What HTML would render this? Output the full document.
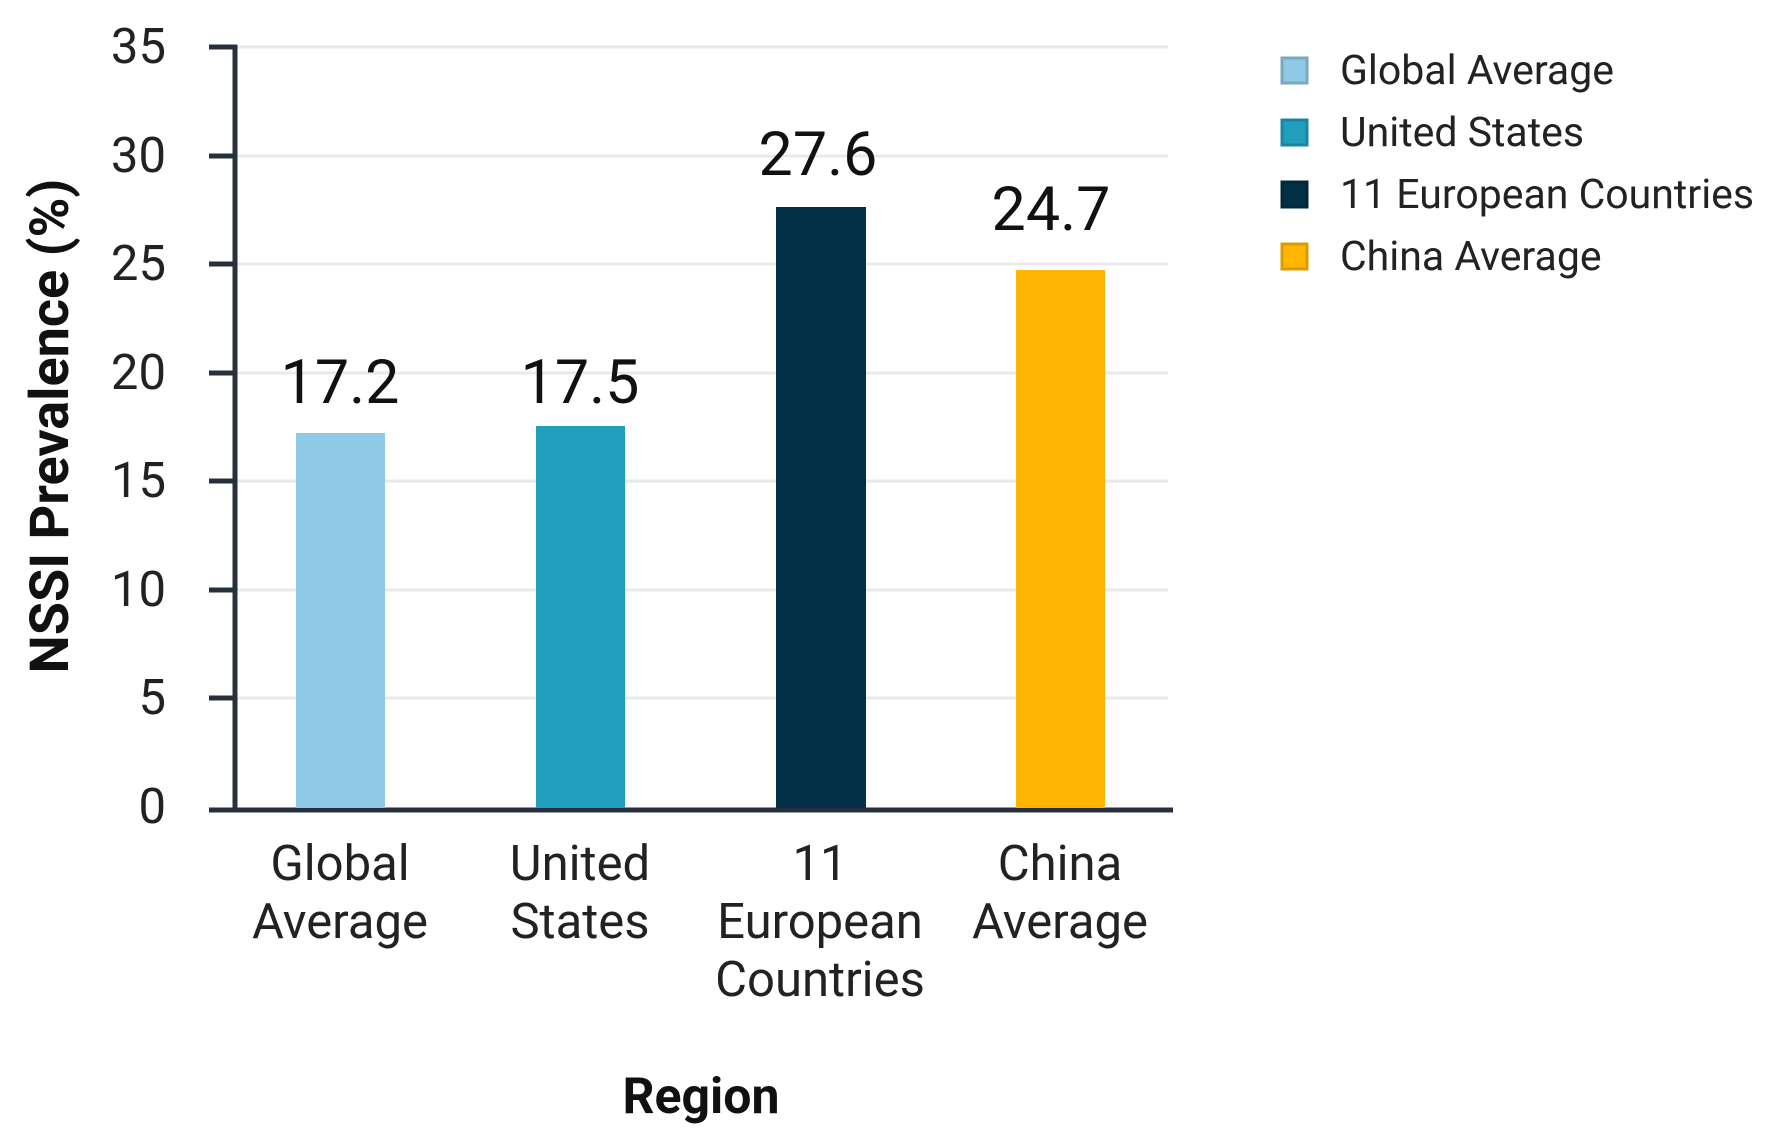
<!DOCTYPE html>
<html><head><style>body{margin:0;background:#fff}</style></head><body>
<svg width="1772" height="1138" xmlns="http://www.w3.org/2000/svg" font-family="Roboto, 'Liberation Sans', sans-serif">
<g stroke="#e9e9e9" stroke-width="3">
<line x1="237" x2="1168" y1="47" y2="47"/><line x1="237" x2="1168" y1="156" y2="156"/>
<line x1="237" x2="1168" y1="264" y2="264"/><line x1="237" x2="1168" y1="373" y2="373"/>
<line x1="237" x2="1168" y1="481" y2="481"/><line x1="237" x2="1168" y1="590" y2="590"/>
<line x1="237" x2="1168" y1="698" y2="698"/>
</g>
<g stroke="#27313d" stroke-width="5">
<line x1="209" x2="237" y1="47" y2="47"/><line x1="209" x2="237" y1="156" y2="156"/>
<line x1="209" x2="237" y1="264" y2="264"/><line x1="209" x2="237" y1="373" y2="373"/>
<line x1="209" x2="237" y1="481" y2="481"/><line x1="209" x2="237" y1="590" y2="590"/>
<line x1="209" x2="237" y1="698" y2="698"/>
<line x1="235" x2="235" y1="45" y2="810"/>
<line x1="209" x2="1173" y1="810" y2="810"/>
</g>
<rect x="296" y="433" width="89" height="375" fill="#8ecae6"/>
<rect x="536" y="426" width="89" height="382" fill="#219ebc"/>
<rect x="776" y="207" width="90" height="601" fill="#023047"/>
<rect x="1016" y="270" width="89" height="538" fill="#ffb703"/>
<g font-size="49" fill="#222" text-anchor="end">
<text x="166" y="63">35</text><text x="166" y="172">30</text><text x="166" y="280">25</text>
<text x="166" y="389">20</text><text x="166" y="497">15</text><text x="166" y="606">10</text>
<text x="166" y="714">5</text><text x="166" y="823">0</text>
</g>
<g font-size="61" fill="#111" text-anchor="middle">
<text x="340" y="403">17.2</text><text x="580" y="403">17.5</text>
<text x="818" y="175">27.6</text><text x="1051" y="230">24.7</text>
</g>
<g font-size="49" fill="#222" text-anchor="middle">
<text x="340" y="880">Global</text><text x="340" y="938">Average</text>
<text x="580" y="880">United</text><text x="580" y="938">States</text>
<text x="820" y="880">11</text><text x="820" y="938">European</text><text x="820" y="996">Countries</text>
<text x="1060" y="880">China</text><text x="1060" y="938">Average</text>
</g>
<text x="701" y="1113" font-size="50" font-weight="bold" fill="#111" text-anchor="middle">Region</text>
<text transform="translate(68,426) rotate(-90)" font-size="54" font-weight="bold" fill="#111" text-anchor="middle">NSSI Prevalence (%)</text>
<g stroke-width="3">
<rect x="1282" y="58" width="25" height="25" fill="#8ecae6" stroke="#7aa8bd"/>
<rect x="1282" y="120" width="25" height="25" fill="#219ebc" stroke="#1b86a0"/>
<rect x="1282" y="182" width="25" height="25" fill="#023047" stroke="#022838"/>
<rect x="1282" y="244" width="25" height="25" fill="#ffb703" stroke="#d99c02"/>
</g>
<g font-size="41" fill="#222">
<text x="1340" y="84">Global Average</text><text x="1340" y="146">United States</text>
<text x="1340" y="208">11 European Countries</text><text x="1340" y="270">China Average</text>
</g>
</svg>
</body></html>
